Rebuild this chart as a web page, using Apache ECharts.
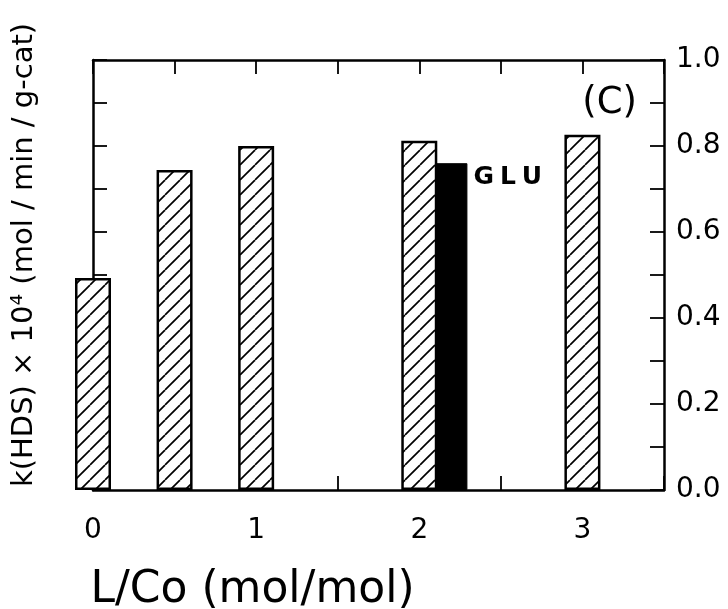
<!DOCTYPE html>
<html>
<head>
<meta charset="utf-8">
<script src="https://cdn.jsdelivr.net/npm/echarts@6/dist/echarts.min.js"></script>
<style>
  html, body { margin: 0; padding: 0; background: #fff; }
  #chart { width: 728px; height: 609px; }
</style>
</head>
<body>
<div id="chart"></div>
<script>
// L/Co ratio and HDS rate constant (hatched bars)
var lcoValues = [0, 0.5, 1, 2, 3];
var khdsValues = [0.493, 0.744, 0.800, 0.812, 0.826];
// GLU ligand (solid bar)
var gluX = [2.2];
var gluValues = [0.76];
var gluName = 'GLU';

var xTitle = 'L/Co (mol/mol)';
var yTitle = 'k(HDS) \u00d7 10\u2074 (mol / min / g-cat)';
var panelTag = '(C)';

var FONT = '"DejaVu Sans", "Liberation Sans", sans-serif';

// diagonal hatch
function makeHatch() {
  var c = document.createElement('canvas');
  var s = 15;
  c.width = s; c.height = s;
  var ctx = c.getContext('2d');
  ctx.fillStyle = '#fff';
  ctx.fillRect(0, 0, s, s);
  ctx.strokeStyle = '#000';
  ctx.lineWidth = 1.7;
  for (var k = -1; k <= 1; k++) {
    ctx.beginPath();
    ctx.moveTo(k * s, s);
    ctx.lineTo(k * s + s, 0);
    ctx.stroke();
  }
  return c;
}

var chartDom = document.getElementById('chart');
var myChart = echarts.init(chartDom, null, { renderer: 'canvas' });

var axisLine = { show: true, onZero: false, lineStyle: { color: '#000', width: 2.5 } };
var tick = { show: true, inside: true, length: 14, lineStyle: { color: '#000', width: 1.8 } };

var option = {
  backgroundColor: '#fff',
  animation: false,
  title: {
    text: panelTag,
    right: 86,
    top: 80,
    textStyle: { fontFamily: FONT, fontSize: 37, fontWeight: 'normal', color: '#000' }
  },
  grid: { left: 93, right: 64, top: 60, bottom: 119, outerBoundsMode: 'none', containLabel: false },
  xAxis: [
    {
      type: 'value',
      position: 'bottom',
      min: 0, max: 3.5, interval: 0.5,
      axisLine: axisLine,
      axisTick: tick,
      splitLine: { show: false },
      axisLabel: {
        margin: 27,
        fontFamily: FONT, fontSize: 28, color: '#000',
        formatter: function (v) { return v % 1 === 0 ? String(v) : ''; }
      },
      name: xTitle,
      nameLocation: 'middle',
      nameGap: 79,
      nameTextStyle: { fontFamily: FONT, fontSize: 44, color: '#000', padding: [0, 252, 0, 0] }
    },
    {
      type: 'value',
      position: 'top',
      min: 0, max: 3.5, interval: 0.5,
      axisLine: axisLine,
      axisTick: tick,
      splitLine: { show: false },
      axisLabel: { show: false }
    }
  ],
  yAxis: [
    {
      type: 'value',
      position: 'right',
      min: 0, max: 1, interval: 0.1,
      axisLine: axisLine,
      axisTick: tick,
      splitLine: { show: false },
      axisLabel: {
        margin: 12,
        fontFamily: FONT, fontSize: 28, color: '#000',
        formatter: function (v) {
          return Math.round(v * 10) % 2 === 0 ? v.toFixed(1) : '';
        }
      }
    },
    {
      type: 'value',
      position: 'left',
      min: 0, max: 1, interval: 0.1,
      axisLine: axisLine,
      axisTick: tick,
      splitLine: { show: false },
      axisLabel: { show: false },
      name: yTitle,
      nameLocation: 'middle',
      nameRotate: 90,
      nameGap: 54,
      nameTextStyle: { fontFamily: FONT, fontSize: 29, color: '#000', padding: [0, 0, 0, 40] }
    }
  ],
  series: [
    {
      name: 'k(HDS)',
      type: 'bar',
      xAxisIndex: 0,
      yAxisIndex: 0,
      barWidth: 36,
      clip: false,
      itemStyle: {
        color: { image: makeHatch(), repeat: 'repeat' },
        borderColor: '#000',
        borderWidth: 2.5
      },
      data: lcoValues.map(function (x, i) { return [x, khdsValues[i]]; })
    },
    {
      name: gluName,
      type: 'bar',
      xAxisIndex: 1,
      yAxisIndex: 0,
      barWidth: 31,
      clip: false,
      itemStyle: { color: '#000', borderColor: '#000', borderWidth: 1 },
      label: {
        show: true,
        position: ['100%', 0],
        distance: 0,
        offset: [3, 2],
        formatter: '{g|G}{g|L}{g|U}',
        rich: {
          g: { fontFamily: FONT, fontSize: 25, fontWeight: 900, color: '#000', padding: [0, 3, 0, 3] }
        }
      },
      data: gluX.map(function (x, i) { return [x, gluValues[i]]; })
    }
  ]
};

myChart.setOption(option);
</script>
</body>
</html>
